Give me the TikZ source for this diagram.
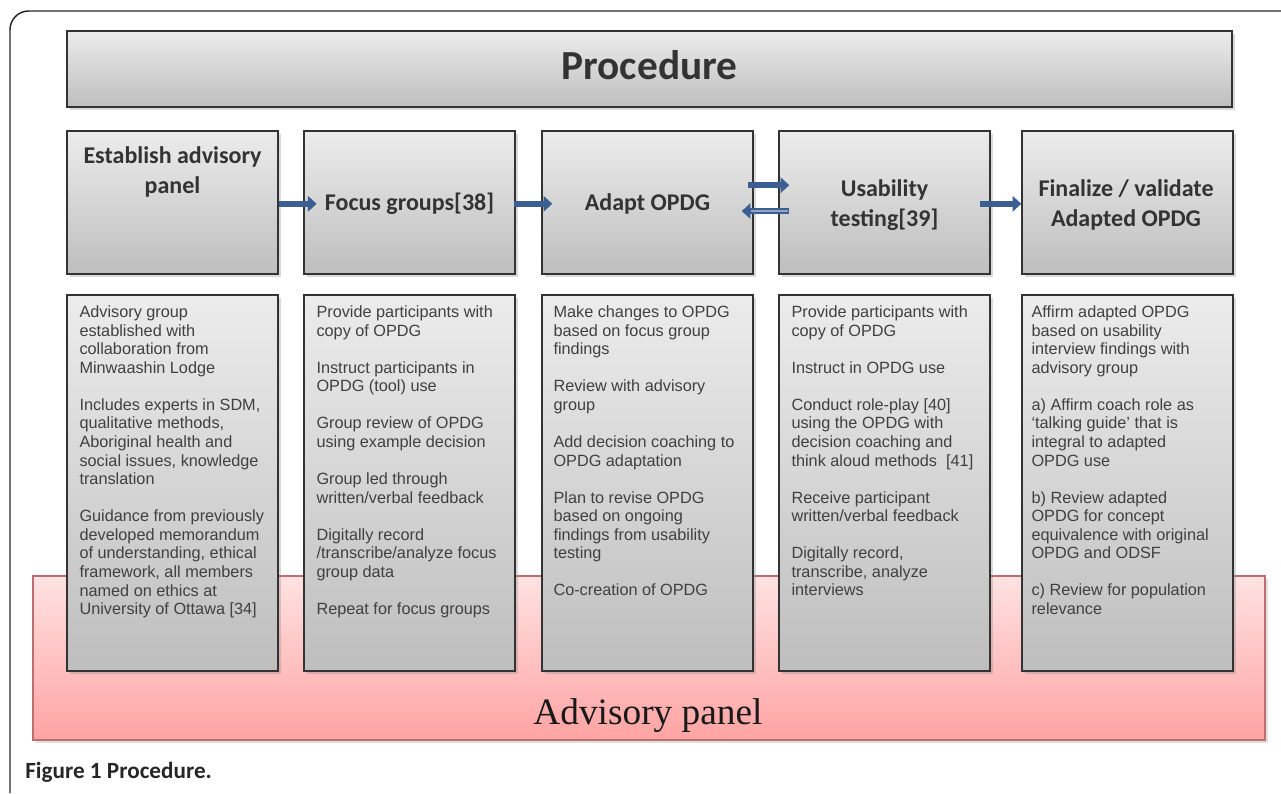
\documentclass[tikz,border=0pt]{standalone}
\usepackage{fontspec}
\setmainfont{Liberation Sans}
\newfontfamily\calib{Carlito}
\newfontfamily\panelserif{Liberation Serif}
\usetikzlibrary{arrows.meta,shadows}
\definecolor{flowblue}{RGB}{59,95,147}
\definecolor{txtgray}{RGB}{51,51,51}
\definecolor{bodygray}{RGB}{64,64,64}
\definecolor{boxtop}{RGB}{236,236,236}
\definecolor{boxbot}{RGB}{190,190,190}
\definecolor{pinktop}{RGB}{255,226,226}
\definecolor{pinkbot}{RGB}{255,163,163}
\definecolor{pinkline}{RGB}{190,110,110}
\newcommand{\pgap}{\\[13.9pt]}

\begin{document}
\begin{tikzpicture}[x=0.75pt,y=-0.75pt]
\tikzstyle{box}=[draw=black!80,line width=1.1pt,top color=boxtop,bottom color=boxbot,minimum width=158.25pt,inner sep=0pt,drop shadow={shadow xshift=2pt,shadow yshift=-2pt,opacity=0.3}]
\tikzstyle{headbox}=[box,minimum height=107.25pt]
\tikzstyle{bodybox}=[box,minimum height=282pt]
\tikzstyle{headtxt}=[text=txtgray,font=\calib\bfseries\fontsize{18}{22.5}\selectfont,align=center,inner sep=3pt]
\tikzstyle{bodytxt}=[text=bodygray,font=\fontsize{12.2}{13.92}\selectfont,align=left,inner sep=0pt,anchor=north west]
\tikzstyle{flow}=[draw=flowblue,line width=4.5pt,-{Triangle[length=6.5pt,width=11.5pt]}]
\useasboundingbox (0,0) rectangle (1281,793);
% frame round the figure
\draw[line width=1.1pt,black!85,rounded corners=14pt] (10,793) -- (10,11) -- (1281,11);
% advisory panel behind the columns
\node[draw=pinkline,line width=1pt,top color=pinktop,bottom color=pinkbot,minimum width=924pt,minimum height=123pt,drop shadow={shadow xshift=2pt,shadow yshift=-2pt,opacity=0.25}] (panel) at (649,658) {};
\node[font=\panelserif\fontsize{28}{30}\selectfont,text=black!90] (paneltxt) at (648,716) {Advisory panel};
% title
\node[headbox,minimum width=873.75pt,minimum height=57pt,font=\calib\bfseries\fontsize{31}{36}\selectfont,text=txtgray] (title) at (649.5,69) {};
\node[font=\calib\bfseries\fontsize{31}{36}\selectfont,text=txtgray] (titletxt) at (649.5,65) {Procedure};
% columns
\foreach \name/\x in {1/172.5,2/409.5,3/647.5,4/884.5,5/1127.5}{
	\node[headbox] (h\name) at (\x,202.5) {};
	\node[bodybox] (b\name) at (\x,483) {};
}
\node[headtxt] (t1) at (172.5,172) {Establish advisory\\panel};
\node[headtxt] (t2) at (409.5,204) {Focus groups[38]};
\node[headtxt] (t3) at (647.5,204) {Adapt OPDG};
\node[headtxt] (t4) at (884.5,205) {Usability\\testing[39]};
\node[headtxt] (t5) at (1126,205) {Finalize / validate\\Adapted OPDG};
% column texts
\node[bodytxt] (p1) at ([xshift=9.75pt,yshift=-8.5pt]b1.north west) {Advisory group\\established with\\collaboration from\\Minwaashin Lodge\pgap Includes experts in SDM,\\qualitative methods,\\Aboriginal health and\\social issues, knowledge\\translation\pgap Guidance from previously\\developed memorandum\\of understanding, ethical\\framework, all members\\named on ethics at\\University of Ottawa [34]};
\node[bodytxt] (p2) at ([xshift=9.75pt,yshift=-8.5pt]b2.north west) {Provide participants with\\copy of OPDG\pgap Instruct participants in\\OPDG (tool) use\pgap Group review of OPDG\\using example decision\pgap Group led through\\written/verbal feedback\pgap Digitally record\\/transcribe/analyze focus\\group data\pgap Repeat for focus groups};
\node[bodytxt] (p3) at ([xshift=9pt,yshift=-8.5pt]b3.north west) {Make changes to OPDG\\based on focus group\\findings\pgap Review with advisory\\group\pgap Add decision coaching to\\OPDG adaptation\pgap Plan to revise OPDG\\based on ongoing\\findings from usability\\testing\pgap Co-creation of OPDG};
\node[bodytxt] (p4) at ([xshift=9.75pt,yshift=-8.5pt]b4.north west) {Provide participants with\\copy of OPDG\pgap Instruct in OPDG use\pgap Conduct role-play [40]\\using the OPDG with\\decision coaching and\\think aloud methods~~[41]\pgap Receive participant\\written/verbal feedback\pgap Digitally record,\\transcribe, analyze\\interviews};
\node[bodytxt] (p5) at ([xshift=7.5pt,yshift=-8.5pt]b5.north west) {Affirm adapted OPDG\\based on usability\\interview findings with\\advisory group\pgap a) Affirm coach role as\\‘talking guide’ that is\\integral to adapted\\OPDG use\pgap b) Review adapted\\OPDG for concept\\equivalence with original\\OPDG and ODSF\pgap c) Review for population\\relevance};
% arrows between the steps
\draw[flow] ([yshift=-1pt]h1.east) -- ([xshift=10pt,yshift=-1pt]h2.west);
\draw[flow] ([xshift=-1.5pt,yshift=-1pt]h2.east) -- ([xshift=8.25pt,yshift=-1pt]h3.west);
\draw[flow] ([xshift=-4pt,yshift=13pt]h3.east) -- ([xshift=8.25pt,yshift=13pt]h4.west);
\draw[flow] ([xshift=8.25pt,yshift=-6.4pt]h4.west) -- ([xshift=-9pt,yshift=-6.4pt]h3.east);
\draw[white!45!flowblue,line width=1.2pt,shorten >=7pt,shorten <=1pt] ([xshift=8.25pt,yshift=-6.4pt]h4.west) -- ([xshift=-9pt,yshift=-6.4pt]h3.east);
\draw[flow] ([xshift=-8.25pt,yshift=-1pt]h4.east) -- ([yshift=-1pt]h5.west);
% caption
\node[anchor=west,font=\calib\bfseries\fontsize{17.4}{19}\selectfont,text=black!85,inner sep=0pt] (caption) at (25,772) {Figure 1 Procedure.};
\end{tikzpicture}
\end{document}
